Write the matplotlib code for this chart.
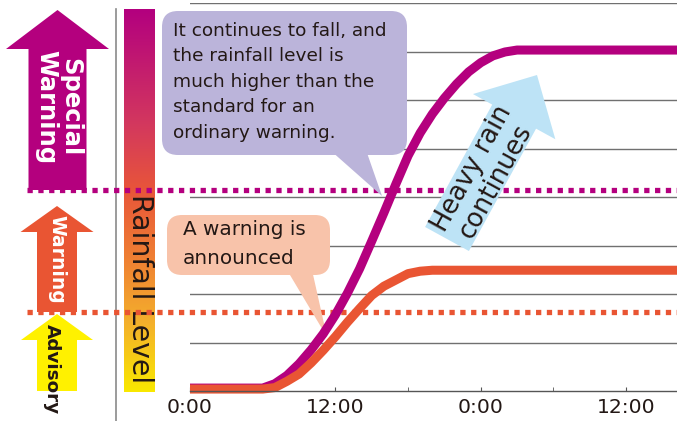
import numpy as np
import matplotlib.pyplot as plt
from matplotlib.patches import Polygon, FancyBboxPatch
from matplotlib.colors import LinearSegmentedColormap

W, H = 677, 421

# rainfall level over time (hours from first 0:00), in grid units
HOURS_SPECIAL = [0, 6, 7, 8, 9, 10, 11, 12, 13, 14, 15, 16, 17, 18, 19, 20,
                 21, 22, 23, 24, 25, 26, 27, 28, 40.2]
LEVEL_SPECIAL = [0.06, 0.06, 0.15, 0.32, 0.56, 0.85, 1.18, 1.57, 2.02, 2.52, 3.09, 3.67,
                 4.27, 4.85, 5.32, 5.71, 6.04, 6.33, 6.58, 6.77, 6.91, 6.99, 7.03, 7.03, 7.03]
HOURS_WARNING = [0, 6, 7, 8, 9, 10, 11, 12, 13, 14, 15, 16, 17, 18, 19, 20, 40.2]
LEVEL_WARNING = [0.04, 0.04, 0.07, 0.20, 0.35, 0.58, 0.84, 1.12, 1.42, 1.70, 1.97, 2.16,
                 2.29, 2.42, 2.47, 2.49, 2.49]
SPECIAL_LINE = 4.14
WARNING_LINE = 1.63
TICK_HOURS = [0, 12, 24, 36]
TICK_LABELS = ["0:00", "12:00", "0:00", "12:00"]
MINOR_HOURS = [6, 18, 30]

MAGENTA = "#b4007e"
ORANGE = "#e95533"
YELLOW = "#fff100"
PURPLE_BOX = "#bbb4da"
PEACH_BOX = "#f8c3aa"
SKY = "#bde3f6"
INK = "#231815"

plt.rcParams['font.family'] = ['DejaVu Sans']

fig = plt.figure(figsize=(6.77, 4.21), dpi=100)

# pixel-space layer for the drawn decorations
deco = fig.add_axes([0, 0, 1, 1], zorder=0)
px = deco.transData

ax = fig.add_axes([190 / W, (H - 391) / H, (W - 190) / W, 388 / H], zorder=1)
ax.set_facecolor("none")
ax.set_xlim(0, 40.2)
ax.set_ylim(0, 8)
for s in ["top", "right", "left"]:
    ax.spines[s].set_visible(False)
ax.spines["bottom"].set_color("#555555")
ax.spines["bottom"].set_linewidth(1.0)
ax.spines["bottom"].set_zorder(6)
ax.set_yticks(range(1, 9))
ax.tick_params(axis="y", left=False, labelleft=False)
ax.yaxis.grid(True, color="#707070", lw=1.0)
ax.set_axisbelow(True)
ax.set_xticks(TICK_HOURS)
ax.set_xticklabels(TICK_LABELS, fontsize=14.7, color=INK)
ax.set_xticks(MINOR_HOURS, minor=True)
ax.tick_params(axis="x", which="both", direction="in", length=3, color="#555555", pad=5)

# threshold lines
for lev, col in [(SPECIAL_LINE, MAGENTA), (WARNING_LINE, ORANGE)]:
    ax.axhline(lev, xmin=(27 - 190) / (W - 190), xmax=1, color=col, lw=3.8,
               linestyle=(0, (1, 1.05)), clip_on=False, zorder=2)

# left arrows
def up_arrow(cx, tip, neck, bottom, head, shaft):
    return [(cx, tip), (cx + head, neck), (cx + shaft, neck), (cx + shaft, bottom),
            (cx - shaft, bottom), (cx - shaft, neck), (cx - head, neck)]

deco.add_patch(Polygon(up_arrow(57.5, 10, 49, 190, 51.5, 29), color=MAGENTA, lw=0))
deco.add_patch(Polygon(up_arrow(57, 206, 232, 312, 36.5, 20), color=ORANGE, lw=0))
deco.add_patch(Polygon(up_arrow(57, 314, 340, 391, 36, 20), color=YELLOW, lw=0))
deco.text(58, 50, "Special\nWarning", rotation=-90, ha="center", va="top",
          color="white", fontsize=17.5, fontweight="bold", linespacing=1.0)
deco.text(57, 215, "Warning", rotation=-90, ha="center", va="top",
          color="white", fontsize=13.5, fontweight="bold")
deco.text(52, 324, "Advisory", rotation=-90, ha="center", va="top",
          color=INK, fontsize=13.2, fontweight="bold")

# rainfall level bar
deco.plot([116, 116], [9, 421], color="#8a8a8a", lw=1.2)
cmap = LinearSegmentedColormap.from_list("rain", [
    (0.0, "#b3007f"), (0.3, "#d3385e"), (0.47, "#e8553a"),
    (0.65, "#ef7f33"), (0.82, "#f4b02c"), (1.0, "#f9e800")])
deco.imshow(np.linspace(0, 1, 256)[:, None], cmap=cmap, aspect="auto",
            extent=(124, 155, 392, 9), zorder=1)
deco.set_xlim(0, W)
deco.set_ylim(H, 0)
deco.axis('off')
deco.text(140, 194, "Rainfall Level", rotation=-90, ha="center", va="top",
          color=INK, fontsize=20.4, zorder=2)

# callouts
ax.add_patch(FancyBboxPatch((162, 11), 245, 144, boxstyle="round,pad=0,rounding_size=16",
                            fc=PURPLE_BOX, ec="none", transform=px, clip_on=False, zorder=3))
ax.add_patch(Polygon([(330, 150), (366, 150), (382, 196)], fc=PURPLE_BOX, ec="none",
                     transform=px, clip_on=False, zorder=3))
ax.text(173, 22, "It continues to fall, and\nthe rainfall level is\nmuch higher than the\n"
        "standard for an\nordinary warning.", transform=px, ha="left", va="top",
        fontsize=13.3, color=INK, linespacing=1.53, zorder=4)

ax.add_patch(FancyBboxPatch((167, 215), 163, 60, boxstyle="round,pad=0,rounding_size=15",
                            fc=PEACH_BOX, ec="none", transform=px, clip_on=False, zorder=3))
ax.add_patch(Polygon([(287, 270), (312, 270), (327, 337)], fc=PEACH_BOX, ec="none",
                     transform=px, clip_on=False, zorder=3))
ax.text(183, 220, "A warning is\nannounced", transform=px, ha="left", va="top",
        fontsize=14.4, color=INK, linespacing=1.65, zorder=4)

# heavy rain arrow
tail = np.array([447.0, 239.0])
tip = np.array([537.0, 75.0])
u = (tip - tail) / np.linalg.norm(tip - tail)
n = np.array([-u[1], u[0]])
neck = tip - u * 47.5
pts = [tail + n * 25, neck + n * 25, neck + n * 47, tip, neck - n * 47, neck - n * 25, tail - n * 25]
ax.add_patch(Polygon(pts, fc=SKY, ec="none", transform=px, clip_on=False, zorder=3))
ax.text(484, 175, "Heavy rain\ncontinues", transform=px, rotation=61.3, ha="center",
        va="center", rotation_mode="anchor", multialignment="center",
        fontsize=18.5, color=INK, linespacing=1.05, zorder=4)

# curves
ax.plot(HOURS_SPECIAL, LEVEL_SPECIAL, color=MAGENTA, lw=6.5, solid_capstyle="butt",
        solid_joinstyle="round", clip_on=False, zorder=5)
ax.plot(HOURS_WARNING, LEVEL_WARNING, color=ORANGE, lw=6.5, solid_capstyle="butt",
        solid_joinstyle="round", clip_on=False, zorder=5)

fig.savefig("out.png", dpi=100)
